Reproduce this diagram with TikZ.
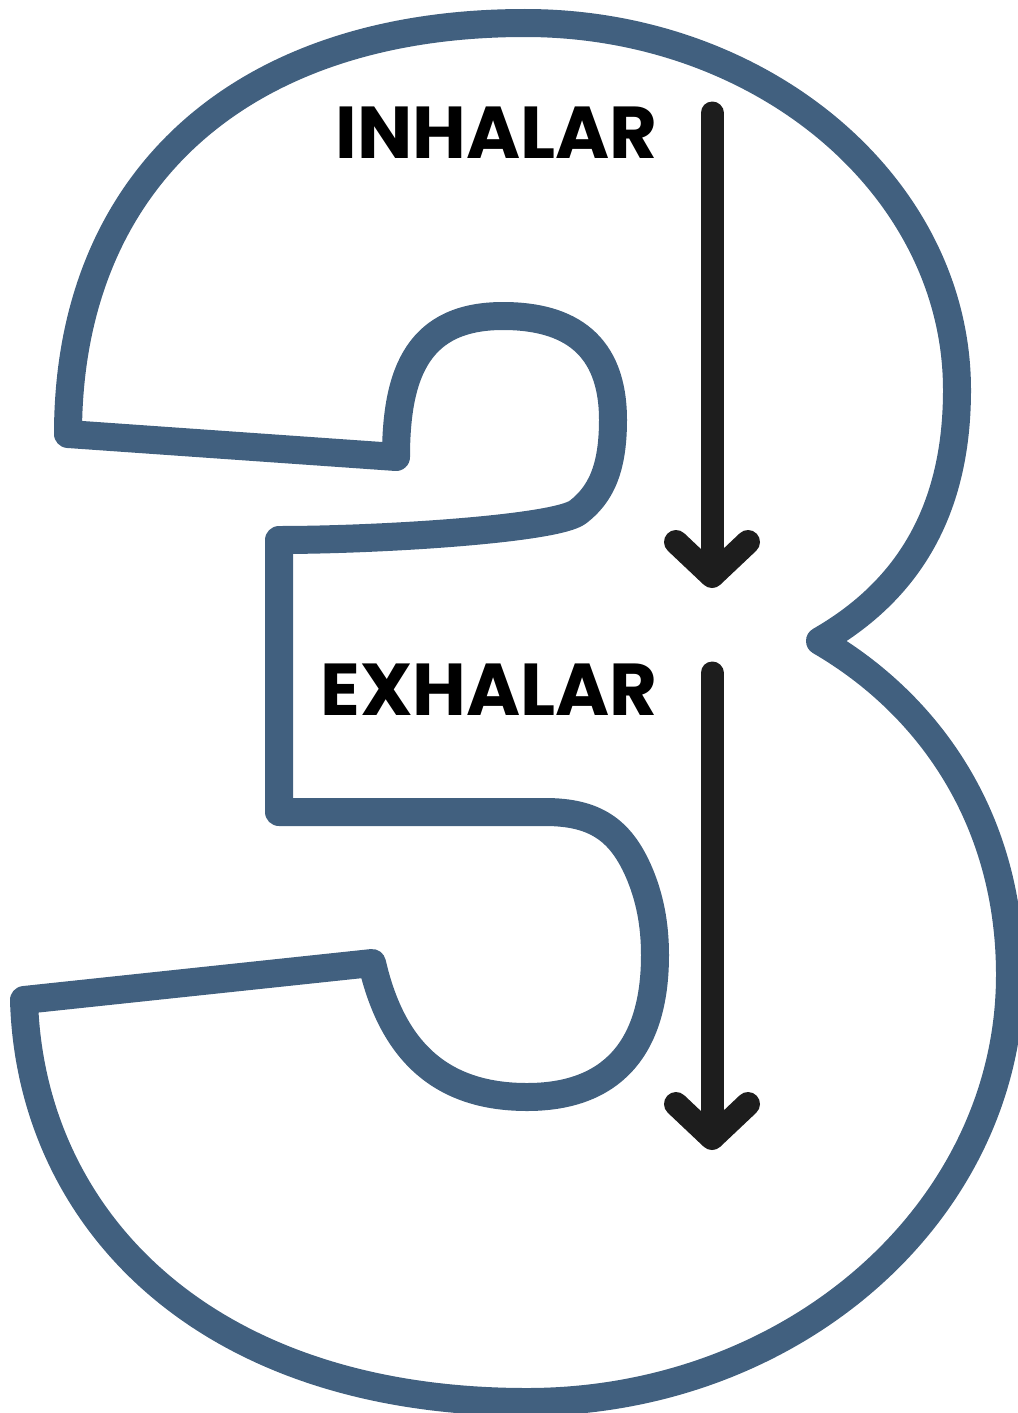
\documentclass[tikz,border=0pt]{standalone}
\usepackage{fontspec}
\newfontfamily\labelfont{Poppins}
\definecolor{outline}{HTML}{41607F}
\definecolor{arrowc}{HTML}{1D1D1D}
\tikzset{
  digit/.style={draw=outline, line width=28pt, line join=round, line cap=round},
  shaft/.style={draw=arrowc, line width=23pt, line cap=round},
  headv/.style={draw=arrowc, line width=24pt, line cap=round, line join=round},
  lbl/.style={inner sep=0pt, font=\labelfont\bfseries\fontsize{73.5}{73.5}\selectfont, text=black}
}
\begin{document}
\begin{tikzpicture}[x=1pt,y=-1pt]
\useasboundingbox (0,0) rectangle (1017,1413);
% outline of the digit 3 (stroke centreline)
\draw[digit]
  (68,434) -- (396,457)
  .. controls (396,370) and (420,316) .. (503,316)
  .. controls (570,316) and (613,345) .. (613,420)
  .. controls (613,470) and (600,495) .. (578,512)
  .. controls (556,529) and (380,540) .. (279,540)
  -- (279,812) -- (545,812)
  .. controls (595,812) and (620,830) .. (638,870)
  .. controls (650,897) and (655,925) .. (655,955)
  .. controls (655,1050) and (610,1097) .. (527,1097)
  .. controls (440,1097) and (392,1050) .. (372,963)
  -- (24,1000)
  .. controls (30,1215) and (200,1402) .. (527,1402)
  .. controls (794,1402) and (1010,1211) .. (1010,975)
  .. controls (1010,820) and (930,705) .. (820,641)
  .. controls (900,595) and (957,520) .. (957,390)
  .. controls (957,187) and (763,23) .. (525,23)
  .. controls (242,23) and (68,179) .. (68,434)
  -- cycle;
% labels
\node[lbl, anchor=base east] (inh) at (658,158) {INHALAR};
\node[lbl, anchor=base east] (exh) at (658,715) {EXHALAR};
% arrows
\coordinate (a1s) at (712,113);
\coordinate (a1e) at (712,576);
\coordinate (a2s) at (712,673);
\coordinate (a2e) at (712,1138);
\draw[shaft] (a1s) -- (a1e);
\draw[headv] ([shift={(-36,-34)}]a1e) -- (a1e) -- ([shift={(36,-34)}]a1e);
\draw[shaft] (a2s) -- (a2e);
\draw[headv] ([shift={(-36,-34)}]a2e) -- (a2e) -- ([shift={(36,-34)}]a2e);
\end{tikzpicture}
\end{document}
